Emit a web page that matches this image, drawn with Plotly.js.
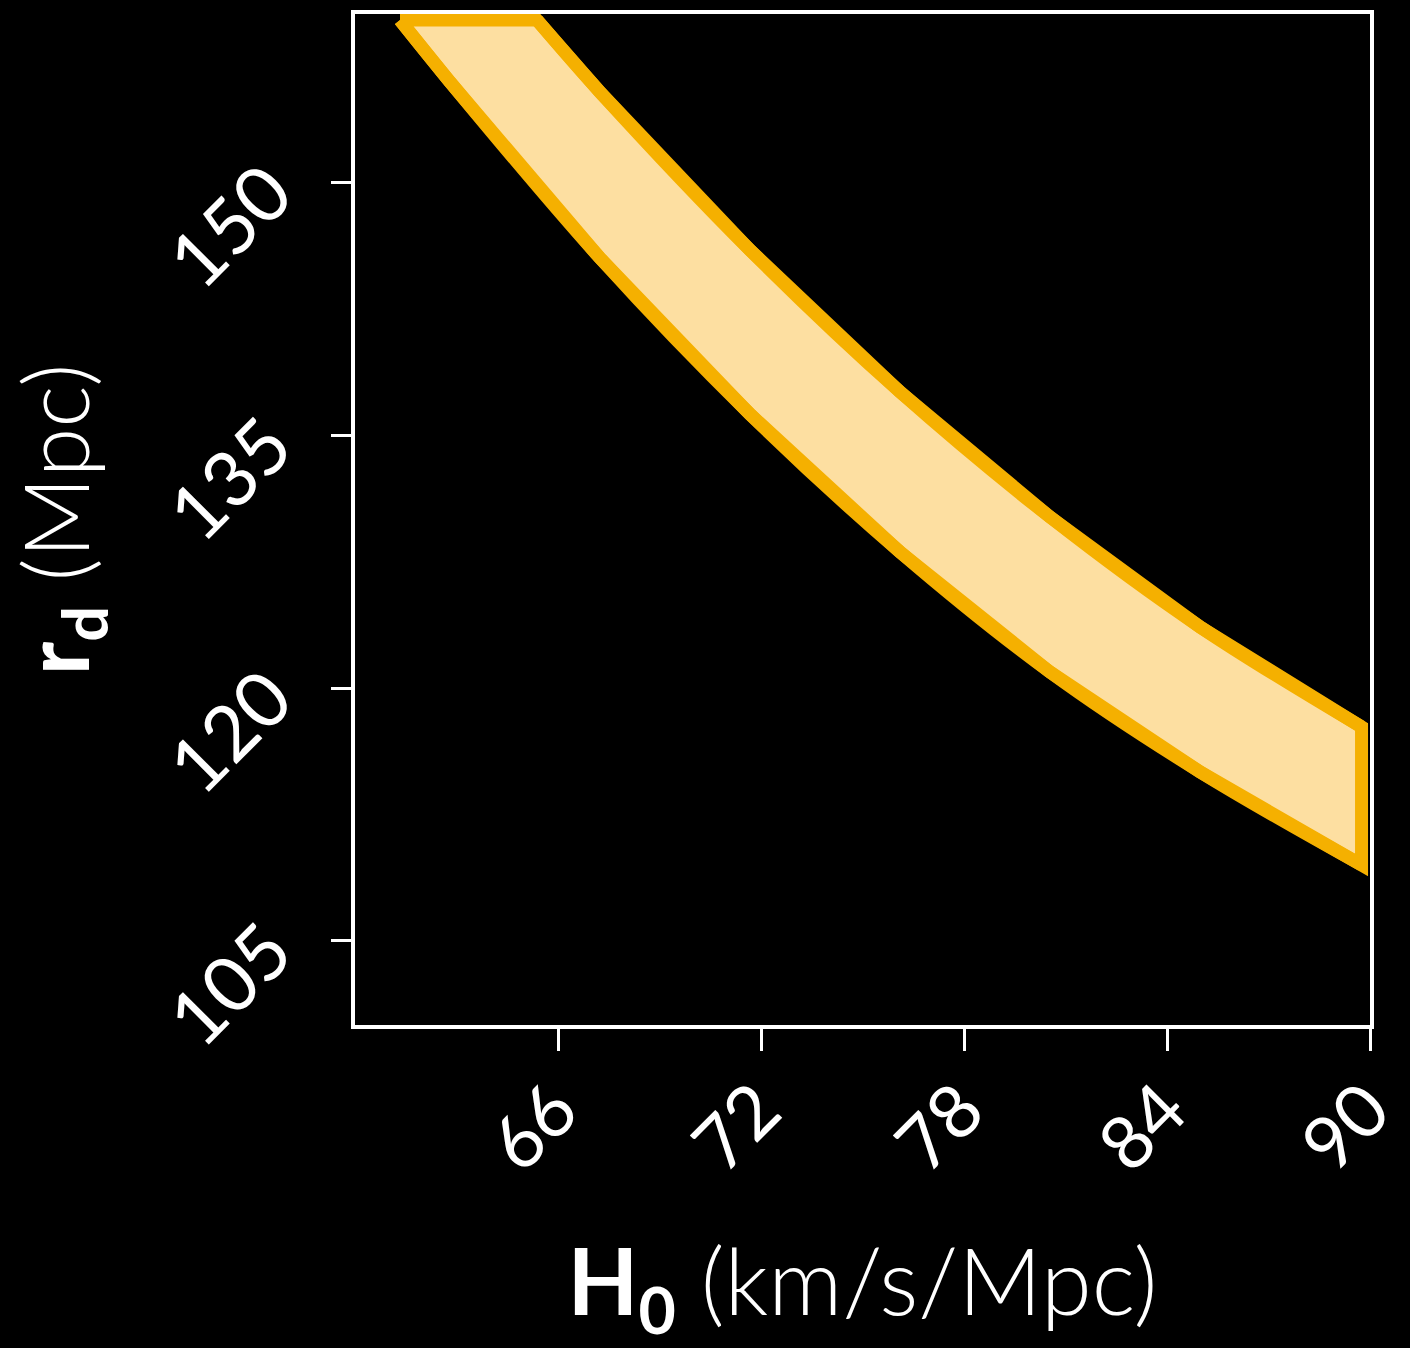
<!DOCTYPE html>
<html><head><meta charset="utf-8">
<script src="https://cdn.plot.ly/plotly-3.0.1.min.js"></script>
<style>html,body{margin:0;padding:0;background:#000;}</style>
</head><body><div id="chart" style="width:1410px;height:1348px;"></div>
<script>
// Lower edge of the band (H0, r_d)
const lowerH0 = [61.33, 62.81, 67.24, 71.67, 76.11, 80.54, 84.98, 89.75];
const lowerRd = [159.64, 155.96, 145.52, 136.26, 128.07, 120.95, 115.02, 109.5];
// Upper edge of the band
const upperH0 = [65.38, 67.24, 71.67, 76.11, 80.54, 84.98, 89.75];
const upperRd = [159.64, 155.37, 146.0, 137.57, 130.15, 123.62, 117.69];
// Ticks
const xTicks = [66, 72, 78, 84, 90];
const yTicks = [105, 120, 135, 150];

const ORANGE = '#F5B000';
const FILL = '#FDDFA1';
const LW = 13;

const polyX = lowerH0.concat(upperH0.slice().reverse(), [lowerH0[0]]);
const polyY = lowerRd.concat(upperRd.slice().reverse(), [lowerRd[0]]);

const traces = [
  {x: polyX, y: polyY, type: 'scatter', mode: 'lines', fill: 'toself', fillcolor: FILL,
   line: {color: ORANGE, width: LW}, hoverinfo: 'skip', showlegend: false},
  {x: lowerH0, y: lowerRd, type: 'scatter', mode: 'lines',
   line: {color: ORANGE, width: LW, shape: 'spline', smoothing: 1}, hoverinfo: 'skip', showlegend: false},
  {x: upperH0, y: upperRd, type: 'scatter', mode: 'lines',
   line: {color: ORANGE, width: LW, shape: 'spline', smoothing: 1}, hoverinfo: 'skip', showlegend: false}
];

const axisCommon = {
  ticks: 'outside', tickwidth: 3, tickcolor: '#fff',
  showline: true, linecolor: '#fff', linewidth: 4, mirror: true,
  showgrid: false, zeroline: false,
  tickangle: -45, ticklabeloverflow: 'allow'
};

const layout = {
  width: 1410, height: 1348,
  paper_bgcolor: '#000', plot_bgcolor: '#000',
  margin: {l: 355, r: 40, t: 14, b: 323},
  font: {family: 'Lato, sans-serif', color: '#fff'},
  xaxis: Object.assign({}, axisCommon, {
    range: [60, 90], tickvals: xTicks, ticktext: xTicks.map(String),
    tickfont: {size: 74, color: '#fff', family: 'Lato, sans-serif'},
    ticklen: 22, ticklabelstandoff: -14, ticklabelshift: -2,
    title: {text: '<b>H<sub>0</sub></b> (km/s/Mpc)', font: {size: 92, color: '#fff', family: 'Lato, sans-serif', weight: 300}, standoff: 92}
  }),
  yaxis: Object.assign({}, axisCommon, {
    range: [100, 160], tickvals: yTicks, ticktext: yTicks.map(String),
    tickfont: {size: 77, color: '#fff', family: 'Lato, sans-serif'},
    ticklen: 20, ticklabelstandoff: 46,
    title: {text: '<b>r<sub>d</sub></b> (Mpc)', font: {size: 90, color: '#fff', family: 'Lato, sans-serif', weight: 300}, standoff: 40}
  })
};

Plotly.newPlot('chart', traces, layout, {displayModeBar: false, staticPlot: true});
</script>
</body></html>
